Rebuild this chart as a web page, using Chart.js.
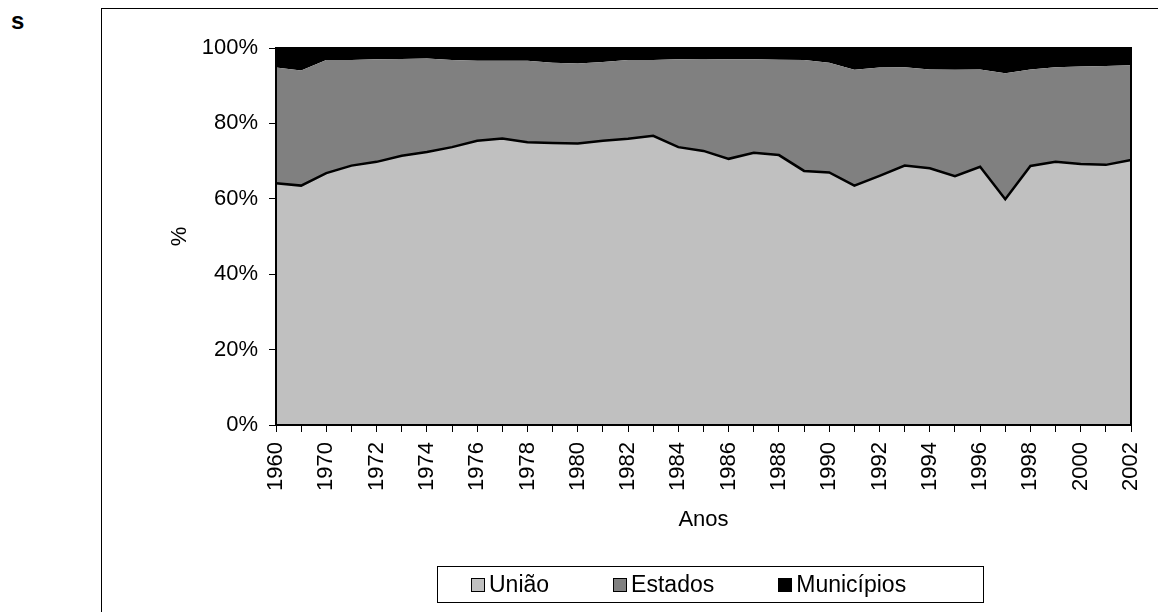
<!DOCTYPE html>
<html>
<head>
<meta charset="utf-8">
<script src="https://cdn.jsdelivr.net/npm/chart.js@4"></script>
<style>
  body { margin: 0; background: #fff; font-family: 'Liberation Sans', Arial, sans-serif; }
  #wrap { position: relative; width: 1158px; height: 612px; overflow: hidden; }
  #frame { position: absolute; left: 101px; top: 8px; width: 1200px; height: 700px;
           border-left: 1px solid #000; border-top: 1px solid #000; }
  #canvas { position: absolute; left: 0; top: 0; }
  #s { position: absolute; left: 11px; top: 7px; font-weight: bold; font-size: 24px; }
  #legend { position: absolute; left: 437px; top: 566px; width: 547px; height: 37px;
            border: 1px solid #000; display: flex; align-items: center;
            padding-left: 33px; box-sizing: border-box; gap: 64px; font-size: 23px; }
  #legend .item { display: flex; align-items: center; }
  #legend .box { width: 12px; height: 12px; border: 1px solid #000; margin-right: 4px; }
</style>
</head>
<body>
<div id="wrap">
  <div id="frame"></div>
  <div id="s">s</div>
  <canvas id="canvas" width="1158" height="612"></canvas>
  <div id="legend"></div>
</div>
<script>
const anos = ['1960', '1965', '1970', '1971', '1972', '1973', '1974', '1975', '1976', '1977',
    '1978', '1979', '1980', '1981', '1982', '1983', '1984', '1985', '1986', '1987',
    '1988', '1989', '1990', '1991', '1992', '1993', '1994', '1995', '1996', '1997',
    '1998', '1999', '2000', '2001', '2002'];

const uniao = [64.1, 63.5, 66.8, 68.8, 69.8, 71.4, 72.4, 73.7, 75.4, 76.0,
    75.0, 74.8, 74.7, 75.4, 75.9, 76.7, 73.7, 72.7, 70.6, 72.2,
    71.6, 67.4, 67.0, 63.5, 66.1, 68.8, 68.1, 66.0, 68.5, 59.9,
    68.7, 69.8, 69.2, 69.0, 70.3];

const estados = [30.7, 30.5, 30.0, 28.0, 27.2, 25.7, 24.8, 23.1, 21.2, 20.6,
    21.6, 21.3, 21.2, 20.9, 20.9, 20.1, 23.3, 24.4, 26.4, 24.8,
    25.3, 29.4, 29.1, 30.7, 28.7, 26.1, 26.2, 28.2, 25.8, 33.4,
    25.6, 25.1, 25.9, 26.2, 25.1];

const municipios = [5.2, 6.0, 3.2, 3.2, 3.0, 2.9, 2.8, 3.2, 3.4, 3.4,
    3.4, 3.9, 4.1, 3.7, 3.2, 3.2, 3.0, 2.9, 3.0, 3.0,
    3.1, 3.2, 3.9, 5.8, 5.2, 5.1, 5.7, 5.8, 5.7, 6.7,
    5.7, 5.1, 4.9, 4.8, 4.6];

const yTicks = [0, 20, 40, 60, 80, 100];

const font = { family: "'Liberation Sans', Arial, sans-serif", size: 22 };
Chart.defaults.color = '#000';
Chart.defaults.font = font;

// moldura da área do gráfico
const plotBorder = {
    id: 'plotBorder',
    afterDatasetsDraw(chart) {
        const a = chart.chartArea;
        const ctx = chart.ctx;
        ctx.save();
        ctx.strokeStyle = '#000';
        ctx.lineWidth = 2;
        ctx.strokeRect(a.left, a.top, a.right - a.left, a.bottom - a.top);
        ctx.restore();
    }
};

const datasets = [{
    label: 'União',
    data: uniao,
    backgroundColor: '#c0c0c0',
    borderColor: '#000',
    borderWidth: 2.5,
    fill: 'origin'
}, {
    label: 'Estados',
    data: estados,
    backgroundColor: '#808080',
    borderColor: '#808080',
    borderWidth: 0,
    fill: '-1'
}, {
    label: 'Municípios',
    data: municipios,
    backgroundColor: '#000',
    borderColor: '#000',
    borderWidth: 0,
    fill: '-1'
}];

var ctx = document.getElementById('canvas').getContext('2d');

var chart = new Chart(ctx, {
    type: 'line',
    data: {
        labels: anos,
        datasets: datasets
    },
    options: {
        responsive: false,
        animation: false,
        layout: {
            padding: { left: 150, top: 48, right: 27, bottom: 79 }
        },
        elements: {
            point: { radius: 0 },
            line: { tension: 0 }
        },
        plugins: {
            legend: { display: false },
            tooltip: { enabled: false }
        },
        scales: {
            x: {
                offset: false,
                grid: { drawOnChartArea: false, drawTicks: true, tickLength: 7, color: '#000' },
                border: { color: '#000', width: 1 },
                ticks: {
                    autoSkip: false,
                    maxRotation: 90,
                    minRotation: 90,
                    padding: 10,
                    callback: function(v, i) { return i % 2 === 0 ? anos[i] : ''; }
                },
                title: { display: true, text: 'Anos', padding: { top: 0, bottom: 0 } },
                afterFit: function(scale) {
                    scale.height = 108;
                    scale.paddingLeft = 0;
                    scale.paddingRight = 0;
                }
            },
            y: {
                stacked: true,
                min: 0,
                max: 100,
                grid: { drawOnChartArea: false, drawTicks: true, tickLength: 7, color: '#000' },
                border: { color: '#000', width: 1 },
                ticks: {
                    stepSize: 20,
                    padding: 11,
                    callback: function(v) { return yTicks.includes(v) ? v + '%' : ''; }
                },
                title: { display: true, text: '%', padding: { top: 17, bottom: 0 } },
                afterFit: function(scale) { scale.width = 126; }
            }
        }
    },
    plugins: [plotBorder]
});

// legenda em caixa, como no original
const legend = document.getElementById('legend');
chart.data.datasets.forEach(function(ds) {
    const item = document.createElement('div');
    item.className = 'item';
    const box = document.createElement('span');
    box.className = 'box';
    box.style.background = ds.backgroundColor;
    const txt = document.createElement('span');
    txt.textContent = ds.label;
    item.appendChild(box);
    item.appendChild(txt);
    legend.appendChild(item);
});
</script>
</body>
</html>
